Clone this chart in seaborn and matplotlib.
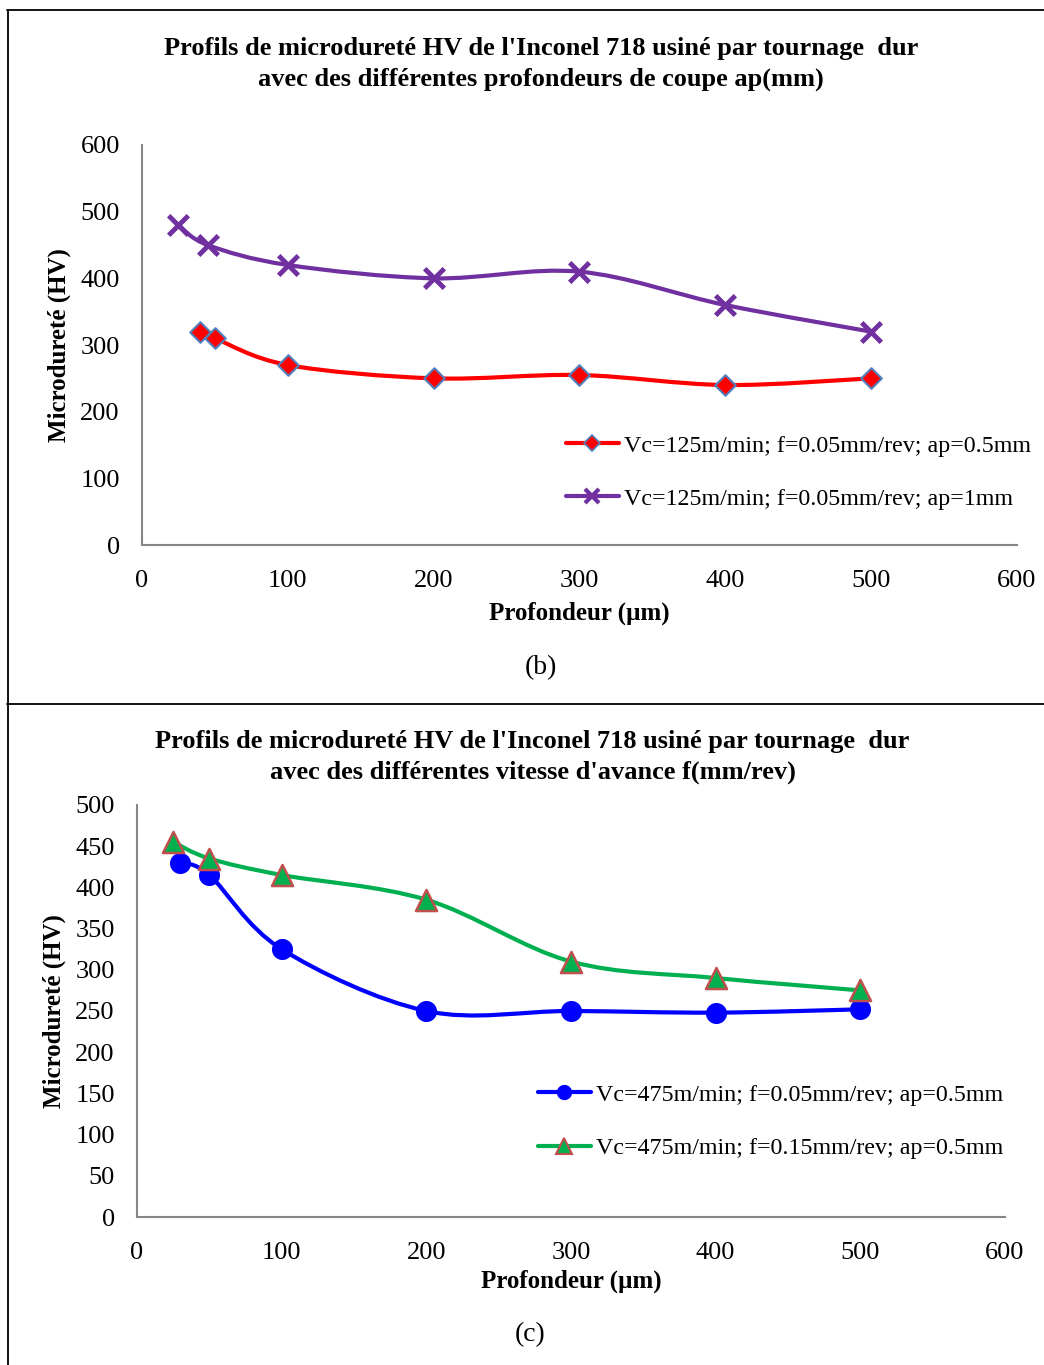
import numpy as np
import pandas as pd
import matplotlib
matplotlib.use("Agg")
import matplotlib.pyplot as plt
import seaborn as sns
from matplotlib.path import Path
from matplotlib.patches import PathPatch
from matplotlib.lines import Line2D

# ---------------- data ----------------
b_x1 = [40, 50, 100, 200, 300, 400, 500]
b_y1 = [320, 310, 270, 250, 255, 240, 250]
b_x2 = [25, 45, 100, 200, 300, 400, 500]
b_y2 = [480, 450, 420, 400, 410, 360, 320]
b_labels = ["Vc=125m/min; f=0.05mm/rev; ap=0.5mm",
            "Vc=125m/min; f=0.05mm/rev; ap=1mm"]

c_x1 = [30, 50, 100, 200, 300, 400, 500]
c_y1 = [430, 415, 325, 250, 250, 248, 252]
c_x2 = [25, 50, 100, 200, 300, 400, 500]
c_y2 = [455, 435, 415, 385, 310, 290, 275]
c_labels = ["Vc=475m/min; f=0.05mm/rev; ap=0.5mm",
            "Vc=475m/min; f=0.15mm/rev; ap=0.5mm"]

b_title = "Profils de microdureté HV de l'Inconel 718 usiné par tournage  dur\navec des différentes profondeurs de coupe ap(mm)"
c_title = "Profils de microdureté HV de l'Inconel 718 usiné par tournage  dur\navec des différentes vitesse d'avance f(mm/rev)"
xlabel = "Profondeur (µm)"
ylabel = "Microdureté (HV)"

sns.set_theme(style="white")
plt.rcParams['font.family'] = ['Liberation Serif', 'DejaVu Serif']
plt.rcParams['text.color'] = 'black'
plt.rcParams['axes.labelcolor'] = 'black'
plt.rcParams['xtick.color'] = 'black'
plt.rcParams['ytick.color'] = 'black'

fig = plt.figure(figsize=(10.44, 13.65), dpi=100)


def smooth_path(ax, xs, ys, color, lw):
    pts = np.column_stack([xs, ys]).astype(float)
    n = len(pts)
    verts = [pts[0]]
    codes = [Path.MOVETO]
    for i in range(n - 1):
        p0 = pts[i - 1] if i > 0 else pts[i]
        p1 = pts[i]
        p2 = pts[i + 1]
        p3 = pts[i + 2] if i + 2 < n else pts[i + 1]
        c1 = p1 + (p2 - p0) / 6.0
        c2 = p2 - (p3 - p1) / 6.0
        verts += [c1, c2, p2]
        codes += [Path.CURVE4] * 3
    patch = PathPatch(Path(verts, codes), fill=False, edgecolor=color, lw=lw,
                      transform=ax.transData, zorder=2, capstyle='round')
    ax.add_patch(patch)


def style_axes(ax, xmax, ymax, ystep, fs, xpad):
    ax.set_xlim(0, xmax)
    ax.set_ylim(0, ymax)
    ax.set_xticks(np.arange(0, xmax + 1, 100))
    ax.set_yticks(np.arange(0, ymax + 1, ystep))
    for s in ['top', 'right']:
        ax.spines[s].set_visible(False)
    for s in ['left', 'bottom']:
        ax.spines[s].set_color('#868686')
        ax.spines[s].set_linewidth(1.5)
    ax.tick_params(axis='both', length=0, labelsize=fs, colors='black')
    ax.tick_params(axis='y', pad=16)
    ax.tick_params(axis='x', pad=xpad)
    ax.grid(False)


# ---------------- panel (b) ----------------
axb = fig.add_axes([0.136, 0.6007, 0.838, 0.2931])
style_axes(axb, 600, 600, 100, 19, 18)
red, purple = '#FF0000', '#7030A0'
smooth_path(axb, b_x1, b_y1, red, 3)
smooth_path(axb, b_x2, b_y2, purple, 3)
sns.scatterplot(x=b_x1, y=b_y1, ax=axb, marker='D', s=110, color=red,
                edgecolor='#4F81BD', linewidth=1.5, zorder=3, legend=False)
sns.scatterplot(x=b_x2, y=b_y2, ax=axb, marker='x', s=200, color=purple,
                linewidth=3.5, zorder=3, legend=False)
axb.set_xlabel(xlabel, fontsize=18, fontweight='bold', labelpad=7)
axb.set_ylabel(ylabel, fontsize=18, fontweight='bold', labelpad=7)
hb = [Line2D([], [], color=red, lw=3, marker='D', ms=8, mfc=red, mec='#4F81BD', mew=1.2),
      Line2D([], [], color=purple, lw=3, marker='x', ms=10, mew=3, mec=purple)]
fig.legend(hb, b_labels, loc='center left', bbox_to_anchor=(0.542, 0.6539),
           frameon=False, fontsize=17.3, handlelength=2.2, handletextpad=0.2,
           labelspacing=1.3, borderpad=0, borderaxespad=0)
fig.text(0.518, 1 - 64 / 1365, b_title, ha='center', va='center', fontsize=19,
         fontweight='bold', linespacing=1.4)
fig.text(0.518, 1 - 668 / 1365, "(b)", ha='center', va='center', fontsize=20)

# ---------------- panel (c) ----------------
axc = fig.add_axes([0.1312, 0.1084, 0.8314, 0.3019])
style_axes(axc, 600, 500, 50, 19, 18)
blue, green = '#0000FF', '#00B050'
smooth_path(axc, c_x1, c_y1, blue, 3)
smooth_path(axc, c_x2, c_y2, green, 3)
sns.scatterplot(x=c_x1, y=c_y1, ax=axc, marker='o', s=230, color=blue,
                edgecolor=blue, linewidth=0, zorder=3, legend=False)
sns.scatterplot(x=c_x2, y=c_y2, ax=axc, marker='^', s=230, color=green,
                edgecolor='#C0504D', linewidth=1.8, zorder=3, legend=False)
axc.set_xlabel(xlabel, fontsize=18, fontweight='bold', labelpad=4)
axc.set_ylabel(ylabel, fontsize=18, fontweight='bold', labelpad=7)
hc = [Line2D([], [], color=blue, lw=3, marker='o', ms=10, mfc=blue, mec=blue),
      Line2D([], [], color=green, lw=3, marker='^', ms=11, mfc=green, mec='#C0504D', mew=1.5)]
fig.legend(hc, c_labels, loc='center left', bbox_to_anchor=(0.5153, 0.1784),
           frameon=False, fontsize=17.3, handlelength=2.2, handletextpad=0.2,
           labelspacing=1.3, borderpad=0, borderaxespad=0)
fig.text(0.51, 1 - 757 / 1365, c_title, ha='center', va='center', fontsize=19,
         fontweight='bold', linespacing=1.4)
fig.text(0.508, 1 - 1335 / 1365, "(c)", ha='center', va='center', fontsize=20)

# ---------------- frame lines ----------------
for (xs, ys) in [([7 / 1044, 1.0], [1 - 10 / 1365] * 2),
                 ([7 / 1044, 1.0], [1 - 704 / 1365] * 2),
                 ([8 / 1044] * 2, [1 - 10 / 1365, 0.0])]:
    fig.add_artist(Line2D(xs, ys, color='black', lw=1.3, transform=fig.transFigure))

fig.savefig("out.png", dpi=100)
